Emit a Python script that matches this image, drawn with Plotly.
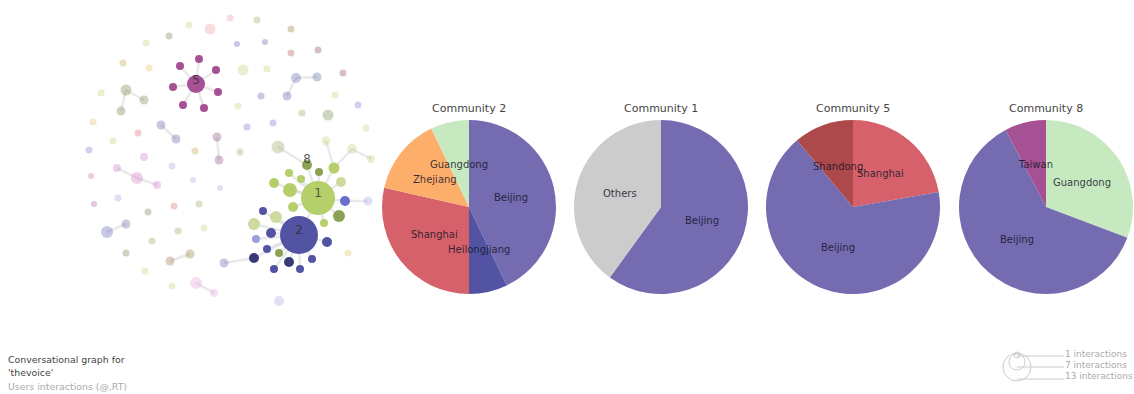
import math
import plotly.graph_objects as go

W, H = 1134, 394

# ---------------- network data (layout positions in pixels) ----------------
node_x = [196, 318, 299, 307,
          199, 180, 216, 173, 218, 183, 204,
          319, 334, 289, 301, 274, 290, 341, 345, 339, 324, 293, 276, 254,
          263, 271, 256, 327, 267, 279, 254, 289, 312, 274, 300,
          230, 210, 257, 291, 189, 169, 146, 237, 265, 291, 318, 343, 123, 149,
          243, 267, 296, 317, 287, 335, 358, 328, 302, 261, 238, 126, 144, 121,
          101, 93, 113, 89, 138, 161, 176, 217, 219, 247, 273, 195, 240, 144,
          278, 326, 352, 371, 366, 117, 137, 157, 91, 172, 193, 220, 118, 94,
          148, 174, 199, 107, 126, 152, 178, 204, 126, 145, 170, 190, 172, 196,
          214, 279, 348, 224, 368]
node_y = [84, 198, 235, 165,
          59, 66, 70, 87, 92, 105, 108,
          172, 168, 173, 179, 183, 190, 182, 201, 216, 223, 207, 217, 224,
          211, 233, 239, 242, 249, 253, 258, 262, 259, 269, 269,
          18, 29, 20, 29, 25, 36, 43, 44, 42, 53, 50, 73, 63, 68,
          70, 69, 78, 77, 96, 95, 105, 115, 113, 96, 106, 90, 100, 111,
          93, 122, 141, 150, 133, 125, 139, 137, 160, 127, 123, 151, 152, 157,
          147, 141, 149, 159, 128, 168, 178, 185, 176, 166, 180, 188, 198, 204,
          212, 206, 204, 232, 224, 241, 231, 228, 253, 271, 261, 254, 286, 283,
          293, 301, 253, 263, 201]
node_size = [18, 34, 38, 10,
             8, 8, 8, 8, 8, 8, 8,
             8, 11, 8, 8, 10, 14, 10, 10, 12, 8, 10, 12, 12,
             8, 10, 8, 10, 8, 8, 10, 10, 8, 8, 8,
             7, 11, 7, 7, 7, 7, 7, 6, 6, 7, 7, 7, 7, 7,
             11, 7, 10, 9, 9, 7, 7, 11, 7, 7, 7, 11, 9, 9,
             7, 7, 7, 7, 7, 9, 9, 9, 9, 7, 7, 7, 7, 8,
             13, 9, 10, 8, 7, 8, 12, 8, 6, 7, 6, 6, 7, 6,
             7, 7, 7, 12, 9, 7, 7, 7, 7, 7, 9, 9, 7, 12,
             8, 10, 7, 9, 9]
node_color = ["#a55194", "#b5cf6b", "#5254a3", "#8ca252",
              "#a55194", "#a55194", "#a55194", "#a55194", "#a55194", "#a55194", "#a55194",
              "#8ca252", "#b5cf6b", "#b5cf6b", "#b5cf6b", "#b5cf6b", "#b5cf6b", "#cedb9c",
              "#6b6ecf", "#8ca252", "#b5cf6b", "#b5cf6b", "#cedb9c", "#cedb9c",
              "#5254a3", "#5254a3", "#9c9ede", "#5254a3", "#5254a3", "#8ca252", "#393b79",
              "#393b79", "#5254a3", "#5254a3", "#5254a3",
              "#e7969c", "#e7969c", "#8ca252", "#8c6d31", "#b5cf6b", "#637939", "#b5cf6b",
              "#5254a3", "#5254a3", "#ad494a", "#843c39", "#843c39", "#bd9e39", "#e7ba52",
              "#b5cf6b", "#b5cf6b", "#5254a3", "#5254a3", "#5254a3", "#b5cf6b", "#6b6ecf",
              "#637939", "#8ca252", "#5254a3", "#b5cf6b", "#637939", "#637939", "#637939",
              "#b5cf6b", "#e7ba52", "#b5cf6b", "#6b6ecf", "#d6616b", "#5254a3", "#5254a3",
              "#7b4173", "#7b4173", "#6b6ecf", "#6b6ecf", "#bd9e39", "#8ca252", "#ce6dbd",
              "#8ca252", "#b5cf6b", "#b5cf6b", "#b5cf6b", "#b5cf6b", "#ce6dbd", "#ce6dbd",
              "#ce6dbd", "#d6616b", "#9c9ede", "#9c9ede", "#9c9ede", "#9c9ede", "#a55194",
              "#637939", "#d6616b", "#8ca252", "#5254a3", "#5254a3", "#8ca252", "#8ca252",
              "#b5cf6b", "#637939", "#b5cf6b", "#8c6d31", "#8c6d31", "#b5cf6b", "#de9ed6",
              "#de9ed6", "#9c9ede", "#e7ba52", "#5254a3", "#9c9ede"]
n_bright = 35
node_alpha = [1.0] * n_bright + [0.32] * (len(node_x) - n_bright)

edge_src = [0, 0, 0, 0, 0, 0, 0,
            1, 1, 1, 1, 1, 1, 1, 1, 1, 1, 1, 1,
            2, 2, 2, 2, 2, 2, 2, 2, 2, 2, 2, 2, 2, 2,
            3, 12, 12, 79, 18, 30, 51, 51, 60, 60, 68, 70, 82, 83, 94, 101, 104]
edge_dst = [4, 5, 6, 7, 8, 9, 10,
            3, 11, 12, 13, 14, 15, 16, 17, 18, 19, 20, 21,
            22, 23, 24, 25, 26, 27, 28, 29, 30, 31, 32, 33, 34, 1,
            77, 78, 79, 80, 109, 108, 52, 53, 61, 62, 69, 71, 83, 84, 95, 102, 105]

hub_index = [0, 1, 2, 3]
hub_labels = ["5", "1", "2", "8"]
hub_label_dy = [-3, -4, -4, -5]

# ---------------- pie data ----------------
pie_titles = ["Community 2", "Community 1", "Community 5", "Community 8"]
pie_labels = [["Beijing", "Heilongjiang", "Shanghai", "Zhejiang", "Guangdong"],
              ["Beijing", "Others"],
              ["Shanghai", "Beijing", "Shandong"],
              ["Guangdong", "Beijing", "Taiwan"]]
pie_values = [[6, 1, 4, 2, 1],
              [3, 2],
              [2, 6, 1],
              [4, 8, 1]]
region_colors = {"Beijing": "#756bb1", "Heilongjiang": "#5254a3", "Shanghai": "#d6616b",
                 "Zhejiang": "#fdae6b", "Guangdong": "#c7e9c0", "Others": "#cccccc",
                 "Shandong": "#ad494a", "Taiwan": "#a55194"}

legend_labels = ["1 interactions", "7 interactions", "13 interactions"]

# ---------------- figure ----------------
fig = go.Figure()

ex, ey = [], []
for a, b in zip(edge_src, edge_dst):
    ex += [node_x[a], node_x[b], None]
    ey += [node_y[a], node_y[b], None]
fig.add_trace(go.Scatter(x=ex, y=ey, mode="lines",
                         line=dict(color="rgba(200,200,200,0.4)", width=2.5),
                         hoverinfo="skip"))
fig.add_trace(go.Scatter(x=node_x, y=node_y, mode="markers",
                         marker=dict(size=node_size, color=node_color, opacity=node_alpha,
                                     line=dict(width=0)),
                         hoverinfo="skip"))
fig.add_trace(go.Scatter(x=[node_x[i] for i in hub_index],
                         y=[node_y[i] + d for i, d in zip(hub_index, hub_label_dy)],
                         mode="text", text=hub_labels,
                         textfont=dict(family="DejaVu Sans", size=12, color="rgba(40,40,40,0.75)"),
                         hoverinfo="skip"))

pie_cx = [469, 661, 853, 1046]
pie_cy = 207
pie_r = 87
for t, labs, vals, cx in zip(pie_titles, pie_labels, pie_values, pie_cx):
    fig.add_trace(go.Pie(labels=labs, values=vals, sort=False, direction="clockwise",
                         rotation=0, textinfo="none", hoverinfo="label+value",
                         marker=dict(colors=[region_colors[l] for l in labs], line=dict(width=0)),
                         domain=dict(x=[(cx - pie_r) / W, (cx + pie_r) / W],
                                     y=[(H - pie_cy - pie_r) / H, (H - pie_cy + pie_r) / H])))
    fig.add_annotation(x=cx, y=pie_cy - pie_r - 12, text=t, showarrow=False, xref="x", yref="y",
                       font=dict(family="DejaVu Sans", size=11, color="#444"))
    total = sum(vals)
    cum = 0
    for l, v in zip(labs, vals):
        th = 2 * math.pi * (cum + v / 2) / total
        cum += v
        fig.add_annotation(x=cx + pie_r / 2 * math.sin(th), y=pie_cy - pie_r / 2 * math.cos(th),
                           text=l, showarrow=False, xref="x", yref="y",
                           font=dict(family="DejaVu Sans", size=10, color="rgba(20,20,40,0.85)"))

# caption
caption = [("Conversational graph for", "#444", 359), ("'thevoice'", "#444", 372),
           ("Users interactions (@,RT)", "#aaa", 386)]
for txt, col, yy in caption:
    fig.add_annotation(x=6, y=yy, text=txt, showarrow=False, xanchor="left", xref="x", yref="y",
                       font=dict(family="DejaVu Sans", size=9.4, color=col))

# size legend
shapes = []
circ = [(1017, 355, 3), (1017, 362, 8), (1017, 367, 14)]
line_y = [356, 367, 379]
text_y = [354, 365, 376]
for (cx, cy, r), ly, ty, lab in zip(circ, line_y, text_y, legend_labels):
    shapes.append(dict(type="circle", xref="x", yref="y", x0=cx - r, x1=cx + r, y0=cy - r, y1=cy + r,
                       line=dict(color="#ccc", width=1)))
    shapes.append(dict(type="line", xref="x", yref="y", x0=cx, x1=1064, y0=ly, y1=ly,
                       line=dict(color="#ccc", width=1)))
    fig.add_annotation(x=1063, y=ty, text=lab, showarrow=False, xanchor="left", xref="x", yref="y",
                       font=dict(family="DejaVu Sans", size=9, color="#aaa"))

fig.update_layout(width=W, height=H, margin=dict(l=0, r=0, t=0, b=0),
                  xaxis=dict(range=[0, W], visible=False, fixedrange=True),
                  yaxis=dict(range=[H, 0], visible=False, fixedrange=True),
                  showlegend=False, plot_bgcolor="white", paper_bgcolor="white",
                  shapes=shapes)

fig.write_html("out.html", config={"displayModeBar": False},
               post_script="document.body.style.margin='0';")
